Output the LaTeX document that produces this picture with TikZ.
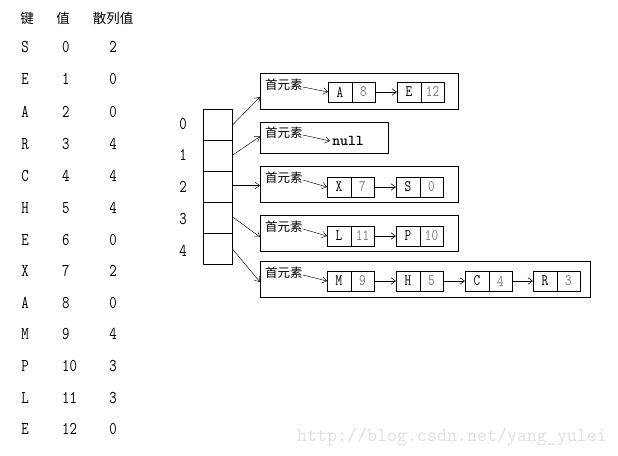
\documentclass[tikz,border=0pt]{standalone}
\usepackage{fontspec}
\setmainfont{Latin Modern Mono}
\newfontfamily\cjk{Noto Sans CJK SC}
\newfontfamily\monos{Latin Modern Mono}[FakeStretch=0.8]
\newfontfamily\nullf{lmmonolt10-bold.otf}
\usetikzlibrary{arrows.meta}
\definecolor{numgray}{RGB}{120,120,120}
\definecolor{wmark}{RGB}{226,222,218}
\begin{document}
\begin{tikzpicture}[x=1pt,y=-1pt,
  tbl/.style={font=\monos\fontsize{18}{18}\selectfont, inner sep=0pt},
  hdr/.style={font=\cjk\fontsize{13.5}{13.5}\selectfont, inner sep=0pt},
  idx/.style={font=\monos\fontsize{18}{18}\selectfont, inner sep=0pt},
  acell/.style={draw, line width=0.8pt, minimum width=29pt, minimum height=31pt, inner sep=0pt, outer sep=0pt, anchor=north west},
  bucket/.style={draw, line width=0.8pt, inner sep=0pt, outer sep=0pt, anchor=north west},
  head/.style={font=\cjk\fontsize{12.5}{12.5}\selectfont, inner sep=0pt, anchor=west},
  kcell/.style={draw, line width=0.8pt, minimum width=24pt, minimum height=20pt, inner sep=0pt, outer sep=0pt, anchor=north west, font=\monos\fontsize{16}{16}\selectfont},
  vcell/.style={draw, line width=0.8pt, minimum width=23pt, minimum height=20pt, inner sep=0pt, outer sep=0pt, anchor=north west, font=\monos\fontsize{16}{16}\selectfont, text=numgray},
  link/.style={line width=0.6pt, -{Straight Barb[length=4.5pt,width=6.5pt]}},
  thin/.style={line width=0.45pt, -{Straight Barb[length=4.5pt,width=6.5pt]}}
]
\useasboundingbox (0,0) rectangle (618,455);

% ---- left table ----
\node[hdr] (h1) at (27,18) {键};
\node[hdr] (h2) at (63,18) {值};
\node[hdr] (h3) at (113,18) {散列值};
\foreach \k/\v/\h/\y [count=\i] in {S/0/2/47, E/1/0/79, A/2/0/112, R/3/4/144, C/4/4/176, H/5/4/208, E/6/0/240, X/7/2/271, A/8/0/303, M/9/4/334, P/10/3/366, L/11/3/398, E/12/0/429}{
  \node[tbl] (key\i) at (25,\y) {\k};
  \node[tbl, anchor=west] (val\i) at (62,\y) {\v};
  \node[tbl] (hash\i) at (113,\y) {\h};
}

% ---- array ----
\node[acell] (c0) at (203,109) {};
\node[acell] (c1) at (203,140) {};
\node[acell] (c2) at (203,171) {};
\node[acell] (c3) at (203,202) {};
\node[acell] (c4) at (203,233) {};
\foreach \n/\y in {0/124,1/155,2/187,3/219,4/251}{
  \node[idx] (i\n) at (183,\y) {\n};
}

% ---- buckets ----
\node[bucket, minimum width=198pt, minimum height=36pt] (b0) at (260,73) {};
\node[bucket, minimum width=128pt, minimum height=31pt] (b1) at (260,122) {};
\node[bucket, minimum width=198pt, minimum height=36pt] (b2) at (260,166) {};
\node[bucket, minimum width=198pt, minimum height=36pt] (b3) at (260,215) {};
\node[bucket, minimum width=330pt, minimum height=36pt] (b4) at (260,261) {};

\node[head] (f0) at (265,85) {首元素};
\node[head] (f1) at (265,133) {首元素};
\node[head] (f2) at (265,178) {首元素};
\node[head] (f3) at (265,227) {首元素};
\node[head] (f4) at (265,273) {首元素};

% bucket 0
\node[kcell] (k0a) at (328,82) {A};
\node[vcell] (v0a) at (352,82) {8};
\node[kcell] (k0b) at (397,82) {E};
\node[vcell] (v0b) at (421,82) {12};
% bucket 1
\node[inner sep=0pt, font=\nullf\fontsize{15}{15}\selectfont] (null1) at (348,141) {null};
% bucket 2
\node[kcell] (k2a) at (327,177) {X};
\node[vcell] (v2a) at (351,177) {7};
\node[kcell] (k2b) at (396,177) {S};
\node[vcell] (v2b) at (420,177) {0};
% bucket 3
\node[kcell] (k3a) at (327,226) {L};
\node[vcell] (v3a) at (351,226) {11};
\node[kcell] (k3b) at (396,226) {P};
\node[vcell] (v3b) at (420,226) {10};
% bucket 4
\node[kcell] (k4a) at (327,271) {M};
\node[vcell] (v4a) at (351,271) {9};
\node[kcell] (k4b) at (396,271) {H};
\node[vcell] (v4b) at (420,271) {5};
\node[kcell] (k4c) at (465,271) {C};
\node[vcell] (v4c) at (489,271) {4};
\node[kcell] (k4d) at (533,271) {R};
\node[vcell] (v4d) at (557,271) {3};

% ---- connectors ----
\draw[thin] ([yshift=-1pt]c0.east) -- ([yshift=-6pt]b0.west);
\draw[thin] (c1.east) -- ([yshift=1pt]b1.west);
\draw[thin] ([yshift=1pt]c2.east) -- ([yshift=1pt]c2.east -| b2.west);
\draw[thin] ([yshift=1pt]c3.east) -- ([yshift=-4pt]b3.west);
\draw[thin] (c4.east) -- ([yshift=-3pt]b4.west);

\draw[thin] ([yshift=-2pt]f0.east) -- (k0a.west);
\draw[thin] ([yshift=-2pt]f1.east) -- ([xshift=-2pt]null1.west);
\draw[thin] ([yshift=-2pt]f2.east) -- (k2a.west);
\draw[thin] ([yshift=-2pt]f3.east) -- (k3a.west);
\draw[thin] ([yshift=-2pt]f4.east) -- (k4a.west);

\draw[link] (v0a.east) -- (k0b.west);
\draw[link] (v2a.east) -- (k2b.west);
\draw[link] (v3a.east) -- (k3b.west);
\draw[link] (v4a.east) -- (k4b.west);
\draw[link] (v4b.east) -- (k4c.west);
\draw[link] (v4c.east) -- (k4d.west);

% watermark
\node[inner sep=0pt, anchor=west, text=wmark, font=\fontsize{19.4}{19.4}\selectfont] (wm) at (297,437) {http://blog.csdn.net/yang\_yulei};
\end{tikzpicture}
\end{document}
